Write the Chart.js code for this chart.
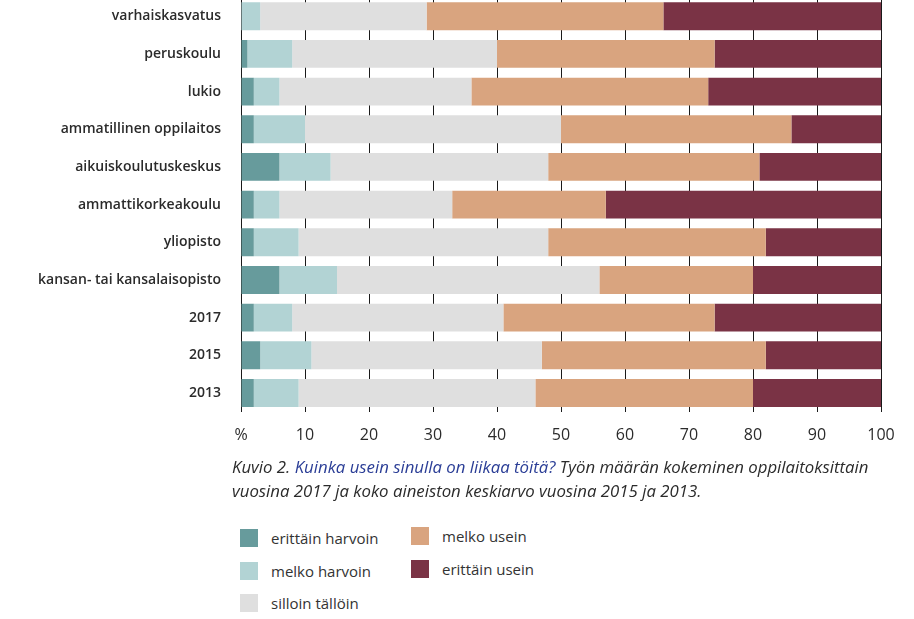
<!DOCTYPE html>
<html>
<head>
<meta charset="utf-8">
<script src="https://cdn.jsdelivr.net/npm/chart.js@4"></script>
<style>
  body { margin: 0; background: #fff; width: 914px; height: 619px; position: relative; overflow: hidden; font-family: "Open Sans", sans-serif; color: #2b2b2b; }
  #wrap { position: absolute; left: 0; top: -31px; width: 914px; height: 495px; }
  #caption { position: absolute; left: 232px; top: 455px; font-style: italic; font-size: 16.8px; line-height: 24px; color: #2b2b2b; }
  #caption .q { color: #2a3d96; }
  #legend { position: absolute; left: 240px; top: 528px; font-size: 15px; font-weight: 500; color: #333; }
  .item { position: absolute; white-space: nowrap; height: 20px; line-height: 20px; }
  .item span.box { position: absolute; left: 0; top: 1px; width: 18px; height: 18px; }
  .item span.txt { position: absolute; left: 31px; top: 0; }
</style>
</head>
<body>
<div id="wrap"><canvas id="chart"></canvas></div>
<div id="caption">Kuvio 2. <span class="q">Kuinka usein sinulla on liikaa töitä?</span> Työn määrän kokeminen oppilaitoksittain<br>vuosina 2017 ja koko aineiston keskiarvo vuosina 2015 ja 2013.</div>
<div id="legend"></div>
<script>
const categories = [
  "varhaiskasvatus", "peruskoulu", "lukio", "ammatillinen oppilaitos",
  "aikuiskoulutuskeskus", "ammattikorkeakoulu", "yliopisto",
  "kansan- tai kansalaisopisto", "2017", "2015", "2013"
];
const seriesNames = ["erittäin harvoin", "melko harvoin", "silloin tällöin", "melko usein", "erittäin usein"];
const erittainHarvoin = [0, 1, 2, 2, 6, 2, 2, 6, 2, 3, 2];
const melkoHarvoin    = [3, 7, 4, 8, 8, 4, 7, 9, 6, 8, 7];
const silloinTalloin  = [26, 32, 30, 40, 34, 27, 39, 41, 33, 36, 37];
const melkoUsein      = [37, 34, 37, 36, 33, 24, 34, 24, 33, 35, 34];
const erittainUsein   = [34, 26, 27, 14, 19, 43, 18, 20, 26, 18, 20];
const xTicks = [0, 10, 20, 30, 40, 50, 60, 70, 80, 90, 100];
const colors = ["#679b9c", "#b2d3d4", "#dfdfdf", "#d9a47f", "#7a3345"];

const seriesData = [erittainHarvoin, melkoHarvoin, silloinTalloin, melkoUsein, erittainUsein];

new Chart(document.getElementById("chart"), {
  type: "bar",
  data: {
    labels: categories,
    datasets: seriesNames.map((name, i) => ({
      label: name,
      data: seriesData[i],
      backgroundColor: colors[i],
      borderWidth: 0,
      barPercentage: 1,
      categoryPercentage: 0.74
    }))
  },
  options: {
    indexAxis: "y",
    responsive: true,
    maintainAspectRatio: false,
    animation: false,
    layout: { padding: { left: 0, right: 33, top: 0, bottom: 5 } },
    plugins: {
      legend: { display: false },
      tooltip: { enabled: false }
    },
    scales: {
      x: {
        stacked: true,
        min: 0,
        max: 100,
        afterBuildTicks: (scale) => { scale.ticks = xTicks.map(v => ({ value: v })); },
        border: { display: false },
        grid: { color: "#1a1a1a", lineWidth: 1, drawTicks: false },
        ticks: {
          padding: 14,
          color: "#2b2b2b",
          font: { family: "Open Sans", size: 16 },
          callback: (v) => v === 0 ? "%" : v
        }
      },
      y: {
        stacked: true,
        afterFit: (scale) => { scale.width = 241; },
        border: { display: false },
        grid: { display: false, drawTicks: false },
        ticks: {
          padding: 20,
          color: "#2b2b2b",
          font: { family: "Open Sans", size: 14, weight: "600" }
        }
      }
    }
  }
});

// legend in two columns like the original
const legendPos = [[0, 0], [0, 33], [0, 65], [171, -2], [171, 31]];
const legend = document.getElementById("legend");
seriesNames.forEach((name, i) => {
  const el = document.createElement("div");
  el.className = "item";
  el.style.left = legendPos[i][0] + "px";
  el.style.top = legendPos[i][1] + "px";
  el.innerHTML = '<span class="box" style="background:' + colors[i] + '"></span><span class="txt">' + name + '</span>';
  legend.appendChild(el);
});
</script>
</body>
</html>
